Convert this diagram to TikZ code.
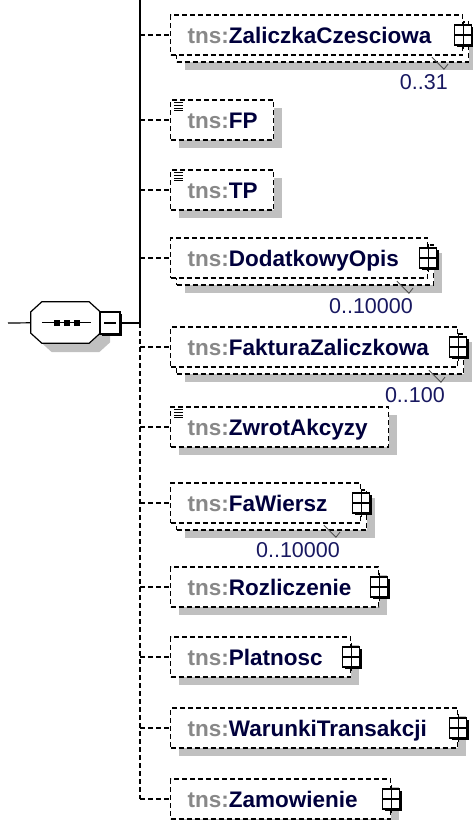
\documentclass[tikz,border=0pt]{standalone}
\usepackage{fontspec}
\setmainfont{Liberation Sans}
\usepackage{tikz}
\usetikzlibrary{shadows}

\definecolor{tnsgray}{RGB}{136,136,136}
\definecolor{elname}{RGB}{0,0,60}
\definecolor{occur}{RGB}{24,24,96}
\definecolor{shade}{RGB}{192,192,192}
\newcommand{\tns}[1]{\hspace*{17pt}{\color{tnsgray}tns:}{\color{elname}#1}}

\begin{document}
\begin{tikzpicture}[x=1pt,y=1pt]
		\tikzset{elem/.style={draw,dash pattern=on 5pt off 3pt,line width=1.2pt,fill=white,anchor=west,minimum height=40pt,inner xsep=0pt,inner ysep=0pt,text height=20pt,text depth=4pt,align=left,font=\fontsize{22.5}{26}\selectfont\bfseries}}
		\tikzset{one/.style={elem,drop shadow={shadow xshift=8pt,shadow yshift=-8pt,opacity=1,fill=shade}}}
		\tikzset{many/.style={elem,drop shadow={shadow xshift=14pt,shadow yshift=-15pt,opacity=1,fill=shade},copy shadow={shadow xshift=6pt,shadow yshift=-7pt,draw=black,fill=white,dash pattern=on 5pt off 3pt}}}
		\tikzset{plusbox/.style={draw,solid,fill=white,line width=1.5pt,minimum width=17pt,minimum height=20pt,inner sep=0pt,drop shadow={shadow xshift=2pt,shadow yshift=-2pt,opacity=1,fill=black},path picture={\draw[line width=1.4pt] (path picture bounding box.west) -- (path picture bounding box.east);}}}
		\tikzset{plusbar/.style={line width=1.4pt,shorten <=-3pt,shorten >=-3pt}}
		\tikzset{conn/.style={dash pattern=on 5pt off 3pt,line width=1.2pt}}
		\tikzset{occ/.style={anchor=east,inner sep=0pt,text=occur,font=\fontsize{21.5}{24}\selectfont}}
		\tikzset{notch/.style={line width=0.8pt,black!70}}
		\tikzset{octo/.style={fill=white,line width=1.2pt,drop shadow={shadow xshift=10pt,shadow yshift=-9pt,opacity=1,fill=shade}}}
		\tikzset{dotsq/.style={fill=black,minimum size=5.5pt,inner sep=0pt}}
		\tikzset{minusbox/.style={draw,fill=white,line width=1.4pt,minimum width=20pt,minimum height=22pt,inner sep=0pt,drop shadow={shadow xshift=2pt,shadow yshift=-2pt,opacity=1,fill=black},path picture={\draw[line width=1.2pt] ([xshift=4pt]path picture bounding box.west) -- ([xshift=-4pt]path picture bounding box.east);}}}
		\useasboundingbox (0,0) rectangle (472,-820);

		% sequence compositor
		\coordinate (lead) at (8,-323);
		\coordinate (trunk) at (140,0);
		\node (seq) at (65.5,-322.5) [minimum width=69pt,minimum height=41pt,inner sep=0pt] {};
		\draw [octo] ([xshift=11pt]seq.north west) -- ([xshift=-11pt]seq.north east) -- ([yshift=-10pt]seq.north east)
			-- ([yshift=10pt]seq.south east) -- ([xshift=-11pt]seq.south east) -- ([xshift=11pt]seq.south west)
			-- ([yshift=10pt]seq.south west) -- ([yshift=-10pt]seq.north west) -- cycle;
		\node (seqm) at (110,-323) [minusbox] {};
		\foreach \x in {57,67,77}
			\node (dot\x) at (\x,-323) [dotsq] {};
		\path
		(lead) edge [line width=1.2pt] (seq)
		(seq.west) edge [line width=1.2pt,shorten <=11pt,shorten >=9pt] (seq.east)
		(seqm) edge [line width=1.2pt] (seqm -| trunk)
		(trunk) edge [line width=1.3pt] (seqm -| trunk);

		% child elements
		\node (zal) at (170,-35) [many,text width=292pt] {\tns{ZaliczkaCzesciowa}};
		\node (fp) at (170,-120) [one,text width=103pt] {\tns{FP}};
		\node (tp) at (170,-190) [one,text width=103pt] {\tns{TP}};
		\node (dod) at (170,-258) [many,text width=257pt] {\tns{DodatkowyOpis}};
		\node (fak) at (170,-347) [many,text width=287pt] {\tns{FakturaZaliczkowa}};
		\node (zwr) at (170,-427) [one,text width=218pt] {\tns{ZwrotAkcyzy}};
		\node (faw) at (170,-503) [many,text width=190pt] {\tns{FaWiersz}};
		\node (roz) at (170,-587) [one,text width=208pt] {\tns{Rozliczenie}};
		\node (pla) at (170,-657) [one,text width=180pt] {\tns{Platnosc}};
		\node (war) at (170,-728) [one,text width=287pt] {\tns{WarunkiTransakcji}};
		\node (zam) at (170,-799) [one,text width=220pt] {\tns{Zamowienie}};

		% occurrences
		\node (zaln) at (448,-82) [occ] {0..31};
		\node (dodn) at (413,-306) [occ] {0..10000};
		\node (fakn) at (445,-395) [occ] {0..100};
		\node (fawn) at (340,-550) [occ] {0..10000};
		\foreach \n in {zaln,dodn,fakn,fawn}
			\draw [notch] (\n.north east) ++(-16,17) -- ++(12,-12) -- ++(4,5);

		% expand icons
		\node (zalp) at (zal.east) [plusbox] {};
		\node (dodp) at (dod.east) [plusbox] {};
		\node (fakp) at (fak.east) [plusbox] {};
		\node (fawp) at (faw.east) [plusbox] {};
		\node (rozp) at (roz.east) [plusbox] {};
		\node (plap) at (pla.east) [plusbox] {};
		\node (warp) at (war.east) [plusbox] {};
		\node (zamp) at (zam.east) [plusbox] {};
		\foreach \p in {zalp,dodp,fakp,fawp,rozp,plap,warp,zamp}
			\path (\p.north) edge [plusbar] (\p.south);

		% simple content marks
		\foreach \e in {fp,tp,zwr}
			\foreach \k in {0,...,3}
				\draw [line width=0.9pt] (\e.north west) ++(4,-3.5-2.6*\k) -- ++(9,0);

		% connectors
		\foreach \e in {zal,fp,tp,dod,fak,zwr,faw,roz,pla,war,zam}
			\path (\e.west -| trunk) edge [conn] (\e.west);
		\path (seqm -| trunk) edge [conn] (zam.west -| trunk);
	\end{tikzpicture}
\end{document}
